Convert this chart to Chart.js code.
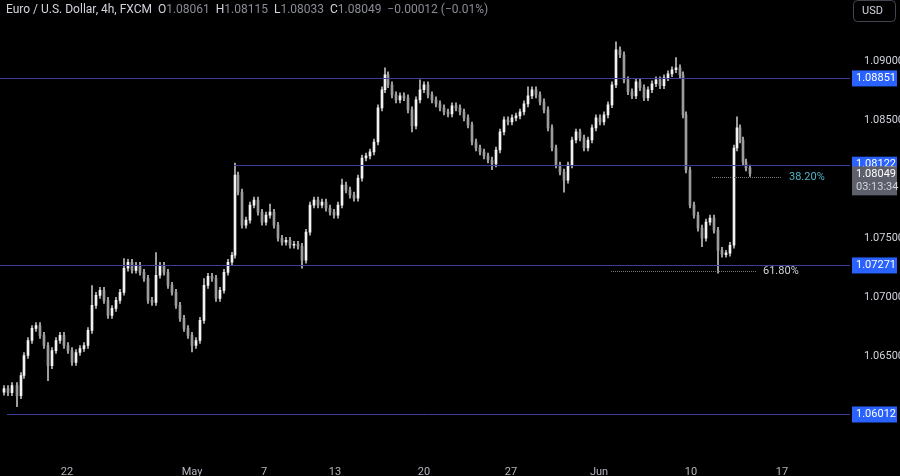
<!DOCTYPE html>
<html>
<head>
<meta charset="utf-8">
<script src="https://cdn.jsdelivr.net/npm/chart.js@4"></script>
<style>
  html, body { margin: 0; padding: 0; background: #000; }
  #wrap { width: 900px; height: 476px; position: relative; }
</style>
</head>
<body>
<div id="wrap"><canvas id="eurusd"></canvas></div>
<script>
// trading-time position of each candle (one week = 88 units)
const barTimes = [0,4,8,13,17,20,24,28,32,36,40,44,48,52,56,60,64,68,72,76,80,84,88,92,96,100,104,108,112,116,120,124,128,132,136,140,144,148,152,156,160,164,168,172,176,180,184,188,192,196,200,204,208,212,216,220,224,228,231,234,238,242,246,250,254,258,262,266,270,274,278,282,286,290,294,298,302,306,310,314,318,322,326,330,334,338,342,346,350,354,358,362,366,370,374,378,381,384,388,392,396,400,404,408,412,416,420,424,428,432,436,440,444,448,452,456,460,464,468,472,476,480,484,488,492,496,500,504,508,512,516,520,524,528,532,536,540,544,548,552,556,560,564,568,572,576,580,584,588,592,596,600,604,608,612,616,620,624,628,632,636,640,644,648,652,656,660,664,668,672,676,679,682,686,690,694,698,702,706,710,714,718,722,726,730,733,736,739,742,746];

const closes = [1.06231,1.06197,1.06256,1.06171,1.06341,1.06510,1.06637,1.06739,1.06764,1.06680,1.06595,1.06425,1.06552,1.06637,1.06680,1.06595,1.06552,1.06451,1.06536,1.06569,1.06595,1.06722,1.06934,1.07018,1.07061,1.06976,1.06849,1.06908,1.06976,1.07044,1.07247,1.07298,1.07230,1.07272,1.07213,1.07162,1.06976,1.06959,1.07188,1.07272,1.07213,1.07103,1.07044,1.06934,1.06824,1.06739,1.06680,1.06595,1.06637,1.06807,1.07103,1.07179,1.07162,1.06993,1.07061,1.07213,1.07298,1.07357,1.08035,1.07891,1.07611,1.07654,1.07781,1.07823,1.07721,1.07637,1.07696,1.07721,1.07611,1.07501,1.07467,1.07484,1.07442,1.07450,1.07433,1.07315,1.07552,1.07781,1.07823,1.07781,1.07806,1.07755,1.07721,1.07696,1.07781,1.07950,1.07908,1.07865,1.07840,1.08009,1.08179,1.08196,1.08230,1.08314,1.08602,1.08755,1.08882,1.08797,1.08712,1.08670,1.08704,1.08687,1.08585,1.08450,1.08670,1.08755,1.08797,1.08712,1.08670,1.08636,1.08602,1.08568,1.08551,1.08619,1.08602,1.08568,1.08518,1.08458,1.08314,1.08263,1.08230,1.08196,1.08162,1.08128,1.08246,1.08399,1.08501,1.08484,1.08518,1.08534,1.08568,1.08636,1.08704,1.08755,1.08712,1.08653,1.08585,1.08433,1.08263,1.08119,1.08060,1.07992,1.08119,1.08331,1.08399,1.08348,1.08263,1.08331,1.08433,1.08518,1.08484,1.08543,1.08628,1.08797,1.09093,1.09051,1.08839,1.08738,1.08704,1.08822,1.08772,1.08687,1.08755,1.08806,1.08839,1.08789,1.08856,1.08890,1.08924,1.08941,1.08882,1.08543,1.08077,1.07781,1.07696,1.07586,1.07501,1.07637,1.07671,1.07569,1.07399,1.07366,1.07374,1.07442,1.08263,1.08433,1.08331,1.08145,1.08094,1.08049];

const firstOpen = 1.06200;

// explicit wick extremes for the notable spikes (time -> price)
const spikeHighs = { 88: 1.07100, 120: 1.07330, 152: 1.07380, 200: 1.07160, 231: 1.08136, 266: 1.07790, 338: 1.08000, 381: 1.08941, 416: 1.08840, 524: 1.08780, 612: 1.09161, 672: 1.09026, 733: 1.08526 };
const spikeLows = { 13: 1.06077, 44: 1.06298, 188: 1.06540, 298: 1.07247, 408: 1.08400, 488: 1.08080, 560: 1.07891, 698: 1.07430, 714: 1.07205 };
const wickPad = 0.00025;

const timeTicks = [63, 188, 260, 331, 420, 507, 595, 687, 778];
const timeLabels = ['22', 'May', '7', '13', '20', '27', 'Jun', '10', '17'];
const priceTicks = [1.065, 1.070, 1.075, 1.085, 1.090];

const levels = [
  { price: 1.08851, from: -10, label: '1.08851' },
  { price: 1.08122, from: 230, label: '1.08122' },
  { price: 1.07271, from: -10, label: '1.07271' },
  { price: 1.06012, from: 3, label: '1.06012' }
];
const fibs = [
  { price: 1.08017, from: 708, to: 778, label: '38.20%', color: '#4fb5c7' },
  { price: 1.07220, from: 607, to: 752, label: '61.80%', color: '#d1d4dc' }
];
const lastPrice = 1.08049;
const countdown = '03:13:34';

const opens = closes.map((c, i) => i === 0 ? firstOpen : closes[i - 1]);
const bodies = closes.map((c, i) => {
  const o = opens[i];
  const lo = Math.min(o, c), hi = Math.max(o, c);
  return { x: barTimes[i], y: hi - lo < 0.00008 ? [lo - 0.00004, hi + 0.00004] : [o, c] };
});
const wicks = closes.map((c, i) => {
  const t = barTimes[i];
  const hi = spikeHighs[t] !== undefined ? spikeHighs[t] : Math.max(opens[i], c) + wickPad;
  const lo = spikeLows[t] !== undefined ? spikeLows[t] : Math.min(opens[i], c) - wickPad;
  return { x: t, y: [lo, hi] };
});
const bodyColors = closes.map((c, i) => c >= opens[i] ? '#f2f2f2' : '#9c9c9c');

const FONT = 'Roboto, "Noto Sans", sans-serif';

const overlay = {
  id: 'overlay',
  afterDatasetsDraw(chart) {
    const { ctx, chartArea: a, scales: { x, y } } = chart;
    ctx.save();
    ctx.strokeStyle = '#3c3f9a';
    ctx.lineWidth = 1;
    levels.forEach(l => {
      const py = Math.round(y.getPixelForValue(l.price)) + 0.5;
      ctx.beginPath();
      ctx.moveTo(Math.max(a.left, x.getPixelForValue(l.from)), py);
      ctx.lineTo(a.right, py);
      ctx.stroke();
    });
    ctx.font = '11px ' + FONT;
    ctx.textBaseline = 'middle';
    fibs.forEach(f => {
      const py = Math.round(y.getPixelForValue(f.price)) + 0.5;
      ctx.strokeStyle = '#777';
      ctx.setLineDash([1, 1]);
      ctx.beginPath();
      ctx.moveTo(x.getPixelForValue(f.from), py);
      ctx.lineTo(x.getPixelForValue(f.to), py);
      ctx.stroke();
      ctx.setLineDash([]);
      ctx.fillStyle = f.color;
      ctx.fillText(f.label, x.getPixelForValue(f.to) + 7, py);
    });
    ctx.restore();
  },
  afterDraw(chart) {
    const { ctx, chartArea: a, scales: { y } } = chart;
    ctx.save();
    ctx.font = '11px ' + FONT;
    ctx.textBaseline = 'middle';
    ctx.textAlign = 'left';
    levels.forEach(l => {
      const py = y.getPixelForValue(l.price);
      ctx.fillStyle = '#2962ff';
      ctx.fillRect(a.right + 2, py - 8, 45, 16);
      ctx.fillStyle = '#fff';
      ctx.fillText(l.label, a.right + 6, py);
    });
    const lp = y.getPixelForValue(lastPrice);
    ctx.fillStyle = '#5d606b';
    ctx.fillRect(a.right + 2, lp - 7, 45, 29);
    ctx.fillStyle = '#fff';
    ctx.fillText(lastPrice.toFixed(5), a.right + 6, lp + 1);
    ctx.fillStyle = '#d1d4dc';
    ctx.fillText(countdown, a.right + 6, lp + 14);
    ctx.font = '12px ' + FONT;
    let hx = 6;
    const part = (txt, col) => { ctx.fillStyle = col; ctx.fillText(txt, hx, 10); hx += ctx.measureText(txt).width; };
    part('Euro / U.S. Dollar, 4h, FXCM  ', '#d1d4dc');
    part('O', '#d1d4dc'); part('1.08061  ', '#8a8d96');
    part('H', '#d1d4dc'); part('1.08115  ', '#8a8d96');
    part('L', '#d1d4dc'); part('1.08033  ', '#8a8d96');
    part('C', '#d1d4dc'); part('1.08049  \u22120.00012 (\u22120.01%)', '#8a8d96');
    ctx.strokeStyle = '#434651';
    ctx.lineWidth = 1;
    ctx.beginPath();
    ctx.roundRect(853.5, 0.5, 42, 21, 4);
    ctx.stroke();
    ctx.fillStyle = '#d1d4dc';
    ctx.font = '11px ' + FONT;
    ctx.fillText('USD', 862, 11);
    ctx.restore();
  }
};

new Chart(document.getElementById('eurusd'), {
  type: 'bar',
  data: {
    datasets: [
      { data: wicks, backgroundColor: '#bdbdbd', barThickness: 1, order: 2 },
      { data: bodies, backgroundColor: bodyColors, barThickness: 2, order: 1 }
    ]
  },
  options: {
    responsive: true,
    maintainAspectRatio: false,
    animation: false,
    events: [],
    layout: { padding: 0 },
    plugins: { legend: { display: false }, tooltip: { enabled: false } },
    datasets: { bar: { grouped: false } },
    scales: {
      x: {
        type: 'linear',
        offset: false,
        min: -4,
        max: 846,
        grid: { display: false },
        border: { display: false },
        afterBuildTicks: s => { s.ticks = timeTicks.map(v => ({ value: v })); },
        afterFit: s => { s.height = 26; },
        ticks: {
          color: '#b2b5be',
          font: { family: FONT, size: 11 },
          maxRotation: 0,
          autoSkip: false,
          padding: 8,
          callback: v => timeLabels[timeTicks.indexOf(v)]
        }
      },
      y: {
        position: 'right',
        min: 1.05712,
        max: 1.09407,
        grid: { display: false },
        border: { display: false },
        afterBuildTicks: s => { s.ticks = priceTicks.map(v => ({ value: v })); },
        afterFit: s => { s.width = 50; },
        ticks: {
          color: '#d1d4dc',
          font: { family: FONT, size: 11 },
          padding: 6,
          callback: v => v.toFixed(5)
        }
      }
    }
  },
  plugins: [overlay]
});
</script>
</body>
</html>
